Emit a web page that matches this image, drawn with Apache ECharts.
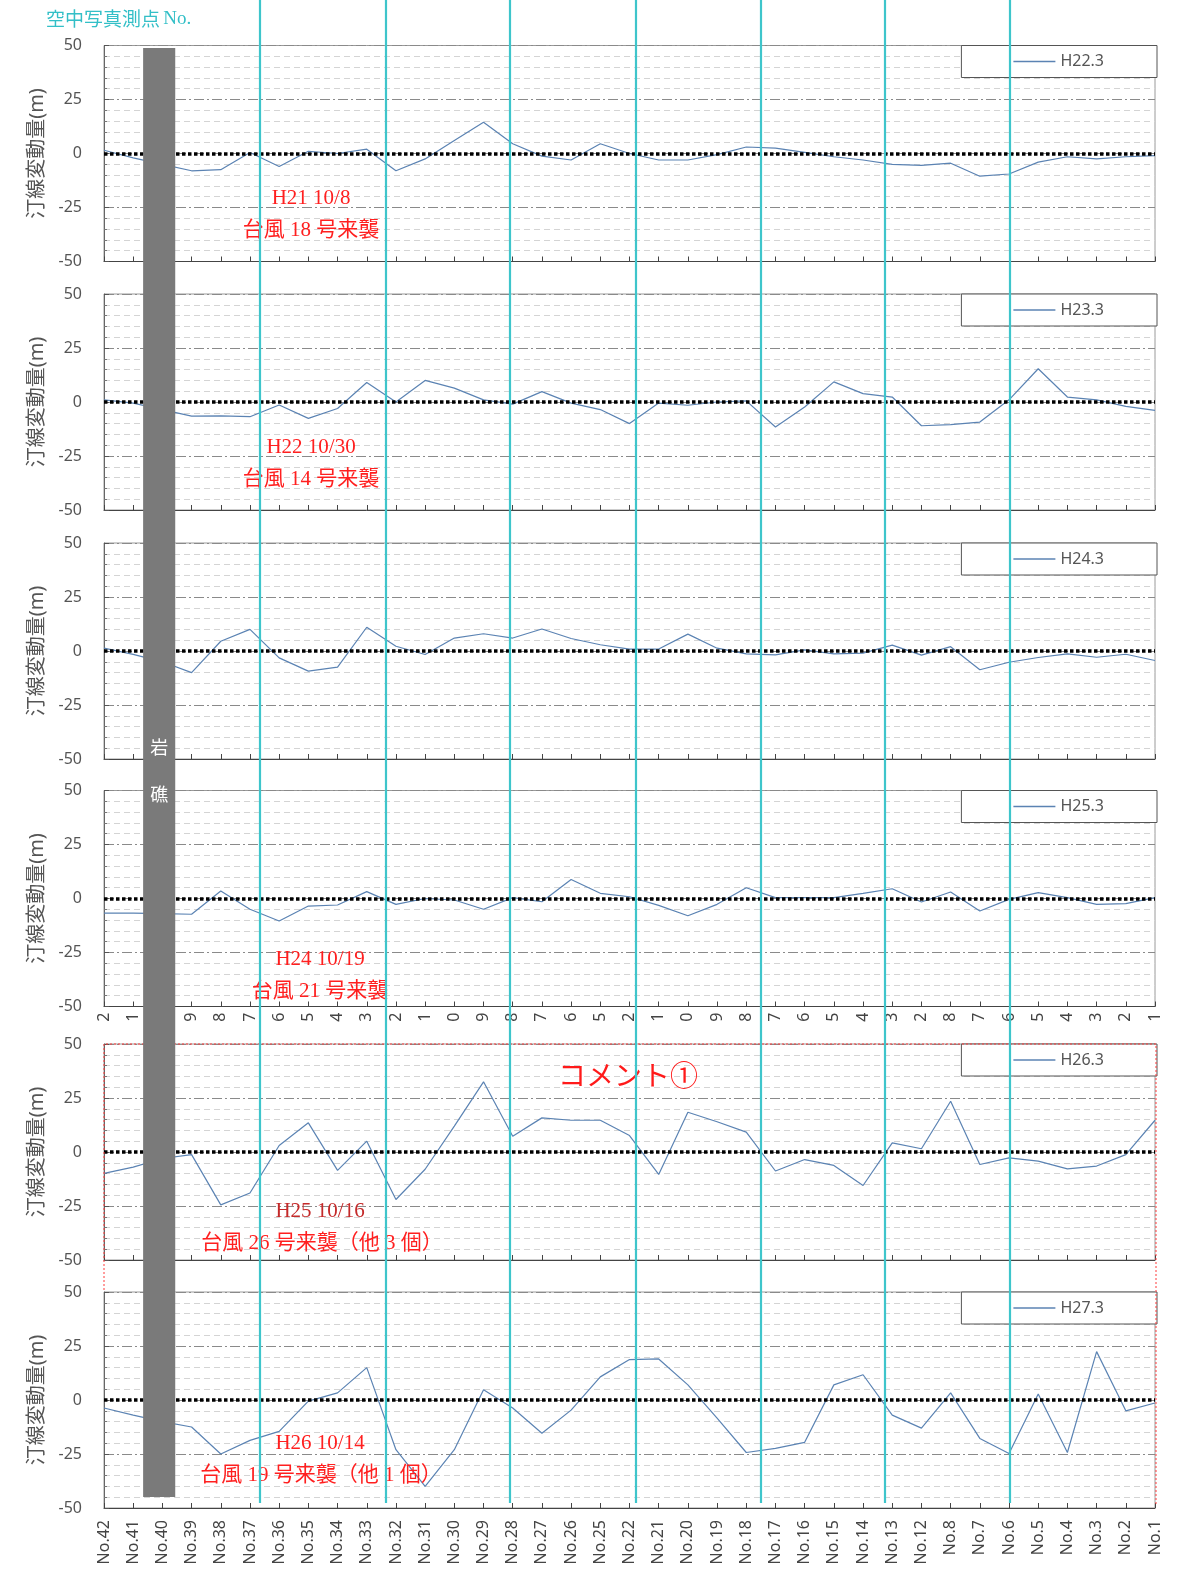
<!DOCTYPE html>
<html>
<head>
<meta charset="utf-8">
<script src="https://cdn.jsdelivr.net/npm/echarts@6/dist/echarts.min.js"></script>
<style>
  html, body { margin: 0; padding: 0; background: #fff; }
  #c { width: 1177px; height: 1575px; }
</style>
</head>
<body>
<div id="c"></div>
<script>
// Survey points along the coast (west to east)
const points = ['No.42','No.41','No.40','No.39','No.38','No.37','No.36','No.35','No.34','No.33',
  'No.32','No.31','No.30','No.29','No.28','No.27','No.26','No.25','No.22','No.21','No.20','No.19',
  'No.18','No.17','No.16','No.15','No.14','No.13','No.12','No.8','No.7','No.6','No.5','No.4',
  'No.3','No.2','No.1'];

// Shoreline change (m) for each survey
const surveyNames = ['H22.3', 'H23.3', 'H24.3', 'H25.3', 'H26.3', 'H27.3'];
const h22 = [1.5, -2, -5, -8, -7.5, 0.5, -6, 1, 0, 2, -8, -2.5, 6, 14.5, 4.5, -1.2, -3, 4.5, 0, -3,
  -3, -0.5, 3, 2.5, 0.5, -1.5, -3, -5, -5.5, -4.5, -10.5, -9.5, -4, -1.5, -2.5, -1.5, -1];
const h23 = [1, -0.5, -3.5, -6.5, -6.4, -6.8, -1.4, -7.6, -3, 9, 0, 10, 6.4, 1, -1, 4.8, -0.5, -3.5,
  -10, -0.5, -1.5, 0, 0.5, -11.6, -2.3, 9.3, 3.9, 2.3, -11, -10.5, -9.3, 1, 15.4, 2.3, 1, -2, -3.9];
const h24 = [1.3, -1.6, -5, -10, 4.5, 10, -3.2, -9.3, -7.5, 11, 2.2, -1.6, 6, 8, 6, 10.2, 5.8, 2.9,
  0.9, 0.9, 7.8, 1.3, -1.3, -1.8, 0.5, -1.3, -1, 2.7, -1.9, 2, -8.7, -5.2, -3, -1.3, -2.9, -1.5, -4.4];
const h25 = [-6.8, -6.8, -7, -7.3, 3.5, -5, -10.4, -3.5, -3, 3.2, -2.7, 0, -0.7, -5, 0.4, -1.5, 8.8,
  2.4, 0.8, -3.2, -8, -2.7, 5, 0.4, 0.4, 0.4, 2.4, 4.5, -1.6, 3, -5.8, -0.4, 2.7, 0.4, -2.7, -2.4, 0.4];
const h26 = [-9.9, -7, -3, -1.2, -24.5, -19, 3, 13.5, -8.5, 5, -22, -8, 12, 32.5, 7.3, 15.8, 14.7,
  14.7, 7.6, -10.4, 18.4, 14, 9.2, -8.8, -3.5, -6.2, -15.5, 4.2, 1.5, 23.5, -5.8, -2.7, -4.2, -7.8,
  -6.5, -1.2, 14.7];
const h27 = [-3.7, -7, -10, -12.5, -25, -18.7, -14.5, -0.5, 3.3, 15, -23, -40, -23, 4.7, -3.7, -15.4,
  -4.7, 10.7, 18.7, 19, 7, -8.4, -24.3, -22.4, -19.6, 7, 11.7, -7, -13, 3.3, -17.8, -24.8, 2.8,
  -24.3, 22.4, -5, -1.4];
const surveys = [h22, h23, h24, h25, h26, h27];

// Y axis range and step
const yMin = -50, yMax = 50, yStep = 25;

// Aerial-photo survey lines, in point-index units along the x axis
const photoPoints = [5.35, 9.64, 13.91, 18.22, 22.49, 26.74, 31.02];
// Rocky reef stretch (point-index units)
const rockZone = [1.34, 2.44];

// Typhoon notes per panel (null = none)
const typhoonDates = ['H21 10/8', 'H22 10/30', null, 'H24 10/19', 'H25 10/16', 'H26 10/14'];
const typhoonNotes = ['台風 18 号来襲', '台風 14 号来襲', null, '台風 21 号来襲',
  '台風 26 号来襲（他 3 個）', '台風 19 号来襲（他 1 個）'];

// ---- layout ----
const PANEL_TOPS = [45.5, 294, 543, 790.5, 1044, 1292];
const PANEL_H = 216;
const LEFT = 104, RIGHT = 22;
const NOTE_OFFSET = [152.5, 153, 0, 169, 167, 151];   // note's first line, below panel top
const NOTE_X1 = [311, 311, 0, 320, 320, 320];
const NOTE_X2 = [311, 311, 0, 320, 322, 321];
const LINE_COLOR = '#5b83b3';
const CYAN = '#3ec5cb';
const SANS = '"Noto Sans", "Noto Sans CJK JP", sans-serif';
const SERIF = '"Liberation Serif", "Noto Sans CJK JP", serif';

const grid = [], xAxis = [], yAxis = [], series = [], legend = [], graphic = [];

surveys.forEach((vals, k) => {
  grid.push({ left: LEFT, right: RIGHT, top: PANEL_TOPS[k], height: PANEL_H,
    show: true, borderColor: '#9a9a9a', borderWidth: 1, backgroundColor: 'rgba(0,0,0,0)' });

  xAxis.push({
    gridIndex: k, type: 'category', data: points, boundaryGap: false,
    axisLine: { show: true, onZero: false, lineStyle: { color: '#444', width: 1 } },
    axisTick: { show: true, inside: true, length: 5, interval: 0, lineStyle: { color: '#444' } },
    axisLabel: {
      show: k === 5 || k === 3, interval: 0, rotate: 90, fontSize: 16, color: '#444',
      fontFamily: SANS, margin: k === 3 ? 6 : 12,
      formatter: k === 3 ? (v) => v.slice(-1) : (v) => v
    },
    splitLine: { show: false }
  });

  yAxis.push({
    gridIndex: k, type: 'value', min: yMin, max: yMax, interval: yStep,
    name: '汀線変動量(m)', nameLocation: 'middle', nameGap: 55, nameRotate: 90,
    nameTextStyle: { fontSize: 20, color: '#555', fontFamily: SANS },
    axisLine: { show: true, lineStyle: { color: '#666', width: 1 } },
    axisTick: { show: true, inside: true, length: 5, lineStyle: { color: '#555' } },
    minorTick: { show: true, splitNumber: 5, length: 3, lineStyle: { color: '#777' } },
    axisLabel: { fontSize: 16, color: '#555', margin: 22, fontFamily: SANS },
    splitLine: { show: true, lineStyle: { color: '#8a8a8a', type: [10, 3, 2, 3] } },
    minorSplitLine: { show: true, lineStyle: { color: '#d4d4d4', type: [6, 4] } }
  });

  series.push({
    name: surveyNames[k], type: 'line', xAxisIndex: k, yAxisIndex: k,
    data: vals, symbol: 'none', z: 2,
    lineStyle: { color: LINE_COLOR, width: 1.2 },
    itemStyle: { color: LINE_COLOR },
    markLine: {
      silent: true, symbol: 'none', z: 5, label: { show: false },
      lineStyle: { color: '#000', width: 3.5, type: [3.5, 2.5] },
      data: [{ yAxis: 0 }]
    }
  });

  legend.push({
    data: [surveyNames[k]], right: RIGHT - 2, top: PANEL_TOPS[k], orient: 'horizontal',
    backgroundColor: '#fff', borderColor: '#555', borderWidth: 1, borderRadius: 0,
    padding: [8, 53, 8, 52], itemWidth: 42, itemHeight: 1.4, icon: 'rect', selectedMode: false,
    textStyle: { fontSize: 16, color: '#555', fontFamily: SANS }
  });

  if (typhoonDates[k]) {
    graphic.push({
      type: 'text', x: NOTE_X1[k], y: PANEL_TOPS[k] + NOTE_OFFSET[k], z: 8,
      style: { text: typhoonDates[k], font: '21px ' + SERIF, fill: k === 4 ? '#c42a2a' : '#ff1f1f',
        textAlign: 'center', textVerticalAlign: 'middle' }
    });
    graphic.push({
      type: 'text', x: NOTE_X2[k], y: PANEL_TOPS[k] + NOTE_OFFSET[k] + 32, z: 8,
      style: { text: typhoonNotes[k], font: '21px ' + SERIF, fill: '#ff1f1f',
        textAlign: 'center', textVerticalAlign: 'middle' }
    });
  }
});

// Full-height overlay for the aerial-photo survey lines
grid.push({ left: LEFT, right: RIGHT, top: 0, height: 1503, show: false });
xAxis.push({ gridIndex: 6, type: 'value', min: 0, max: points.length - 1, show: false });
yAxis.push({ gridIndex: 6, type: 'value', min: 0, max: 1, show: false });
series.push({
  type: 'line', xAxisIndex: 6, yAxisIndex: 6, data: [], silent: true, z: 12,
  markLine: {
    silent: true, symbol: 'none', z: 12, label: { show: false },
    lineStyle: { color: CYAN, width: 2.2, type: 'solid' },
    data: photoPoints.map((v) => ({ xAxis: v }))
  }
});

// Rocky reef band across all panels
grid.push({ left: LEFT, right: RIGHT, top: 48, height: 1449, show: false });
xAxis.push({ gridIndex: 7, type: 'value', min: 0, max: points.length - 1, show: false });
yAxis.push({ gridIndex: 7, type: 'value', min: 0, max: 1, show: false });
series.push({
  type: 'line', xAxisIndex: 7, yAxisIndex: 7, data: [], silent: true, z: 10,
  markArea: {
    silent: true, z: 10,
    itemStyle: { color: '#7a7a7a', opacity: 1 },
    label: { show: true, position: 'inside', formatter: '岩\n礁', color: '#fff',
      fontSize: 18, lineHeight: 47, fontFamily: SANS },
    data: [[{ xAxis: rockZone[0] }, { xAxis: rockZone[1] }]]
  }
});

// Header and comment
graphic.push({
  type: 'text', x: 46, y: 19, z: 8,
  style: {
    text: '{a|空中写真測点} {b|No.}', textVerticalAlign: 'middle',
    rich: {
      a: { fontSize: 19, fontFamily: '"Noto Sans CJK JP", sans-serif', fill: '#33bfc7' },
      b: { fontSize: 19, fontFamily: SERIF, fill: '#33bfc7' }
    }
  }
});
graphic.push({
  type: 'text', x: 628, y: PANEL_TOPS[4] + 31, z: 8,
  style: { text: 'コメント①', font: '28px "Noto Sans CJK JP", sans-serif', fill: '#ff1a1a',
    textAlign: 'center', textVerticalAlign: 'middle' }
});
// Dotted frame around the commented panels
graphic.push({
  type: 'polyline', z: 6, silent: true,
  shape: { points: [[LEFT, 1290], [LEFT, PANEL_TOPS[4]], [1156, PANEL_TOPS[4]], [1156, 1506]] },
  style: { fill: null, stroke: '#ff3b3b', lineWidth: 1, lineDash: [2, 2] }
});

const chart = echarts.init(document.getElementById('c'), null, { renderer: 'canvas' });
chart.setOption({
  animation: false,
  backgroundColor: '#fff',
  grid, xAxis, yAxis, series, legend, graphic
});
</script>
</body>
</html>
